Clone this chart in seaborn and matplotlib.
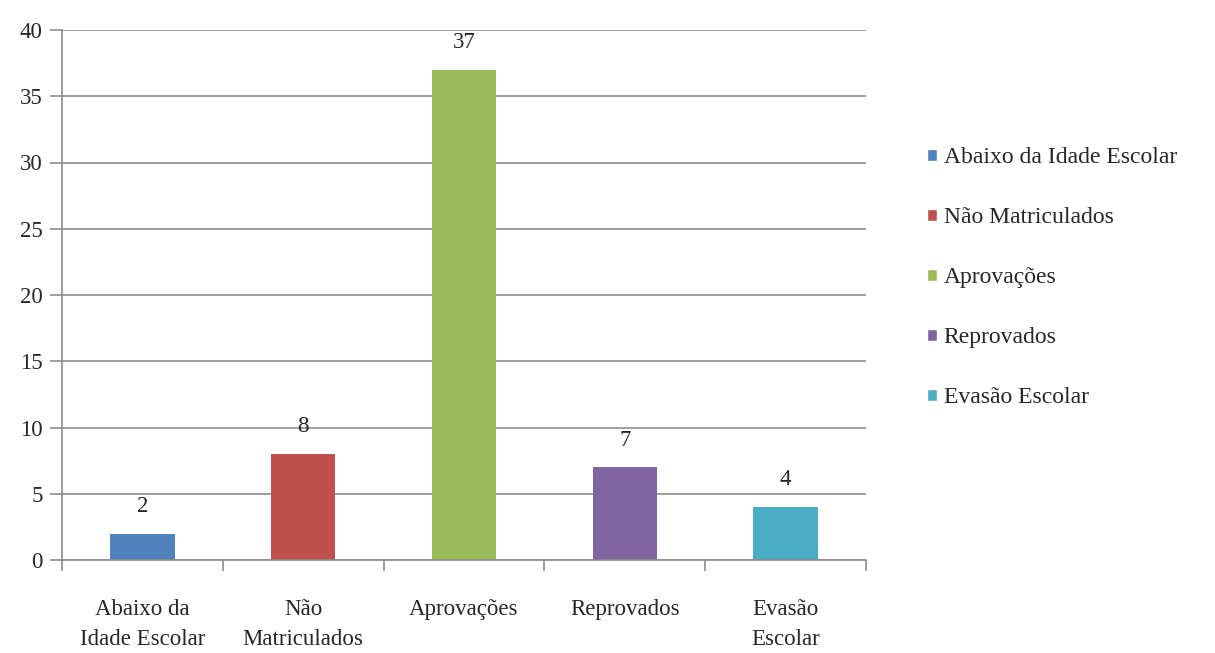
import matplotlib
matplotlib.use("Agg")
import matplotlib.pyplot as plt
import seaborn as sns
import pandas as pd
from matplotlib.patches import Patch
from matplotlib.ticker import FixedLocator

categories = ["Abaixo da Idade Escolar", "Não Matriculados", "Aprovações", "Reprovados", "Evasão Escolar"]
tick_labels = ["Abaixo da\nIdade Escolar", "Não\nMatriculados", "Aprovações", "Reprovados", "Evasão\nEscolar"]
values = [2, 8, 37, 7, 4]
colors = ["#4F81BD", "#C0504D", "#9BBB59", "#8064A2", "#4BACC6"]

sns.set_style("white")
plt.rcParams['font.family'] = ['Liberation Serif', 'DejaVu Serif']

df = pd.DataFrame({"cat": categories, "val": values})

fig = plt.figure(figsize=(12.15, 6.53), dpi=100)
ax = fig.add_axes([62/1215, 1-560/653, (866-62)/1215, (560-30)/653])

sns.barplot(data=df, x="cat", y="val", hue="cat", palette=colors, width=0.4,
            dodge=False, legend=False, ax=ax, saturation=1, linewidth=0,
            edgecolor="none")

ax.set_ylim(0, 40)
ax.set_xlim(-0.5, 4.5)
ax.set_yticks(range(0, 41, 5))
ax.yaxis.grid(True, color="#8c8c8c", linewidth=1.2)
ax.set_axisbelow(True)
for s in ["top", "right"]:
    ax.spines[s].set_visible(False)
for s in ["left", "bottom"]:
    ax.spines[s].set_color("#8c8c8c")
    ax.spines[s].set_linewidth(1.2)

ax.set_xticks(range(len(categories)))
ax.set_xticklabels(tick_labels, fontsize=16.5, va="top", linespacing=1.55)
ax.tick_params(axis="x", which="major", length=0, pad=28, bottom=True)
ax.xaxis.set_minor_locator(FixedLocator([-0.5, 0.5, 1.5, 2.5, 3.5, 4.5]))
ax.tick_params(axis="x", which="minor", length=8, color="#8c8c8c", width=1.2,
               direction="out", bottom=True)
ax.tick_params(axis="y", length=9, color="#8c8c8c", width=1.2, direction="out",
               labelsize=16.5, pad=5, left=True)
ax.set_xlabel("")
ax.set_ylabel("")

for c in ax.containers:
    ax.bar_label(c, padding=12, fontsize=16.5)

handles = [Patch(facecolor=col, label=lab) for col, lab in zip(colors, categories)]
fig.legend(handles=handles, loc="upper left", bbox_to_anchor=(906/1215, 1-126/653),
           frameon=False, fontsize=17, handlelength=0.4, handleheight=0.4,
           handletextpad=0.3, labelspacing=1.65)

fig.savefig("out.png", dpi=100, facecolor="white")
